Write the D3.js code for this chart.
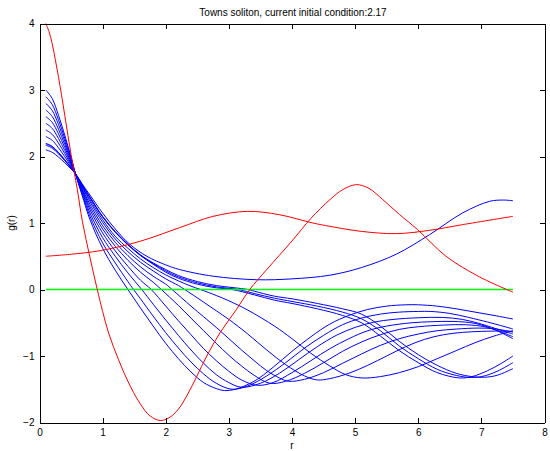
<!DOCTYPE html>
<html>
<head>
<meta charset="utf-8">
<title>Towns soliton</title>
<script src="https://cdn.jsdelivr.net/npm/d3@7"></script>
<style>
    body { margin: 0; background: #fff; }
    text { font-family: "Liberation Sans", Arial, Helvetica, sans-serif; }
    .curve { fill: none; }
</style>
</head>
<body>
<div id="vis"></div>
<script>
    // tick values
    var xTicks = [0, 1, 2, 3, 4, 5, 6, 7, 8];
    var yTicks = [-2, -1, 0, 1, 2, 3, 4];

    // shooting curves, [r, g(r)]
    var blue30 = [[0.1,3.0],[0.2,2.874],[0.3,2.622],[0.4,2.32],[0.5,1.992],[0.57,1.74],[0.7,1.34],[0.8,1.05],[1.0,0.62],[1.2,0.29],[1.4,0.0],[1.6,-0.28],[1.8,-0.55],[2.0,-0.81],[2.2,-1.04],[2.4,-1.24],[2.6,-1.4],[2.8,-1.49],[2.93,-1.52],[3.1,-1.5],[3.4,-1.38],[3.7,-1.17],[4.0,-0.93],[4.3,-0.71],[4.6,-0.52],[4.9,-0.39],[5.2,-0.3],[5.5,-0.25],[5.8,-0.23],[6.0,-0.23],[6.3,-0.25],[6.6,-0.29],[6.9,-0.34],[7.2,-0.39],[7.5,-0.444]];
    var blue29 = [[0.1,2.9],[0.2,2.784],[0.3,2.552],[0.4,2.274],[0.5,1.972],[0.57,1.74],[0.7,1.37],[0.8,1.1],[1.0,0.7],[1.2,0.4],[1.4,0.12],[1.49,0.0],[1.6,-0.14],[1.8,-0.4],[2.0,-0.65],[2.2,-0.88],[2.4,-1.09],[2.6,-1.27],[2.8,-1.41],[3.05,-1.5],[3.3,-1.45],[3.6,-1.3],[3.9,-1.1],[4.2,-0.88],[4.5,-0.69],[4.8,-0.53],[5.1,-0.43],[5.4,-0.37],[5.7,-0.34],[6.0,-0.33],[6.2,-0.33],[6.5,-0.36],[6.8,-0.42],[7.1,-0.49],[7.3,-0.54],[7.5,-0.594]];
    var blue28 = [[0.1,2.8],[0.2,2.694],[0.3,2.482],[0.4,2.228],[0.5,1.952],[0.57,1.74],[0.7,1.4],[0.8,1.15],[1.0,0.78],[1.2,0.5],[1.4,0.25],[1.62,0.0],[1.8,-0.22],[2.0,-0.46],[2.2,-0.69],[2.4,-0.91],[2.6,-1.11],[2.8,-1.28],[3.0,-1.4],[3.2,-1.47],[3.5,-1.41],[3.8,-1.26],[4.1,-1.06],[4.4,-0.86],[4.7,-0.69],[5.0,-0.57],[5.3,-0.49],[5.6,-0.45],[6.0,-0.425],[6.38,-0.42],[6.7,-0.45],[7.0,-0.52],[7.3,-0.61],[7.5,-0.67]];
    var blue27 = [[0.1,2.7],[0.2,2.604],[0.3,2.412],[0.4,2.182],[0.5,1.932],[0.57,1.74],[0.7,1.43],[0.8,1.2],[1.0,0.85],[1.2,0.58],[1.4,0.35],[1.6,0.14],[1.77,0.0],[2.0,-0.25],[2.2,-0.47],[2.4,-0.68],[2.6,-0.89],[2.8,-1.07],[3.0,-1.23],[3.2,-1.36],[3.45,-1.44],[3.7,-1.4],[4.0,-1.25],[4.3,-1.07],[4.6,-0.89],[4.9,-0.74],[5.2,-0.62],[5.5,-0.55],[5.9,-0.5],[6.2,-0.485],[6.55,-0.48],[6.9,-0.51],[7.2,-0.6],[7.5,-0.74]];
    var blue26 = [[0.1,2.6],[0.2,2.514],[0.3,2.342],[0.4,2.136],[0.5,1.912],[0.57,1.74],[0.7,1.45],[0.8,1.24],[1.0,0.91],[1.2,0.65],[1.4,0.44],[1.6,0.26],[1.8,0.11],[1.93,0.0],[2.2,-0.24],[2.4,-0.43],[2.6,-0.62],[2.8,-0.81],[3.0,-0.99],[3.2,-1.15],[3.4,-1.29],[3.65,-1.41],[3.9,-1.38],[4.2,-1.26],[4.5,-1.1],[4.8,-0.93],[5.1,-0.79],[5.4,-0.68],[5.7,-0.6],[6.0,-0.56],[6.4,-0.535],[6.75,-0.53],[7.1,-0.57],[7.5,-0.71]];
    var blue25 = [[0.1,2.5],[0.2,2.424],[0.3,2.272],[0.4,2.09],[0.5,1.892],[0.57,1.74],[0.7,1.47],[0.8,1.28],[1.0,0.96],[1.2,0.71],[1.4,0.51],[1.6,0.34],[1.8,0.2],[2.0,0.08],[2.1,0.0],[2.4,-0.25],[2.6,-0.41],[2.8,-0.57],[3.0,-0.74],[3.2,-0.91],[3.4,-1.07],[3.6,-1.22],[3.8,-1.33],[3.95,-1.38],[4.2,-1.35],[4.5,-1.25],[4.8,-1.11],[5.1,-0.97],[5.4,-0.84],[5.7,-0.74],[6.0,-0.67],[6.3,-0.62],[6.6,-0.595],[6.95,-0.58],[7.2,-0.59],[7.5,-0.64]];
    var blue24 = [[0.1,2.4],[0.2,2.334],[0.3,2.202],[0.4,2.044],[0.5,1.872],[0.57,1.74],[0.7,1.5],[0.8,1.32],[1.0,1.01],[1.2,0.76],[1.4,0.57],[1.6,0.41],[1.8,0.28],[2.0,0.16],[2.2,0.06],[2.3,0.0],[2.6,-0.19],[2.8,-0.32],[3.0,-0.45],[3.3,-0.67],[3.6,-0.91],[3.9,-1.13],[4.2,-1.3],[4.4,-1.36],[4.6,-1.34],[4.9,-1.26],[5.2,-1.14],[5.5,-1.0],[5.8,-0.86],[6.1,-0.75],[6.4,-0.68],[6.7,-0.645],[7.0,-0.63],[7.3,-0.625],[7.5,-0.63]];
    var blue23 = [[0.1,2.3],[0.2,2.244],[0.3,2.132],[0.4,1.998],[0.5,1.852],[0.57,1.74],[0.7,1.51],[0.8,1.35],[1.0,1.05],[1.2,0.8],[1.4,0.62],[1.6,0.46],[1.8,0.33],[2.0,0.22],[2.2,0.13],[2.4,0.05],[2.55,0.0],[2.8,-0.09],[3.0,-0.17],[3.3,-0.31],[3.73,-0.555],[4.0,-0.74],[4.3,-0.96],[4.6,-1.15],[4.85,-1.28],[5.1,-1.33],[5.4,-1.31],[5.7,-1.25],[6.0,-1.16],[6.3,-1.04],[6.6,-0.92],[6.9,-0.8],[7.2,-0.7],[7.5,-0.62]];
    var blue22 = [[0.1,2.2],[0.2,2.154],[0.3,2.062],[0.4,1.952],[0.5,1.832],[0.57,1.74],[0.7,1.53],[0.8,1.38],[1.0,1.09],[1.2,0.86],[1.4,0.67],[1.6,0.51],[1.8,0.38],[2.0,0.26],[2.2,0.17],[2.5,0.08],[2.8,0.025],[3.05,0.0],[3.4,-0.08],[3.72,-0.16],[4.0,-0.21],[4.4,-0.29],[4.8,-0.39],[5.1,-0.5],[5.4,-0.7],[5.7,-0.92],[6.0,-1.1],[6.3,-1.25],[6.65,-1.33],[6.85,-1.31],[7.1,-1.22],[7.3,-1.12],[7.5,-1.0]];
    var blue219 = [[0.1,2.19],[0.2,2.145],[0.3,2.055],[0.4,1.947],[0.5,1.83],[0.57,1.74],[0.7,1.535],[0.8,1.385],[1.0,1.095],[1.2,0.865],[1.4,0.675],[1.6,0.515],[1.8,0.39],[2.0,0.28],[2.2,0.19],[2.5,0.1],[2.8,0.04],[3.15,0.0],[3.4,-0.06],[3.72,-0.13],[4.0,-0.18],[4.4,-0.25],[4.8,-0.34],[5.1,-0.44],[5.4,-0.62],[5.7,-0.85],[6.0,-1.04],[6.3,-1.2],[6.55,-1.28],[6.78,-1.32],[7.0,-1.31],[7.25,-1.23],[7.5,-1.1]];
    var blue217 = [[0.1,2.17],[0.2,2.127],[0.3,2.041],[0.4,1.938],[0.5,1.826],[0.57,1.74],[0.7,1.54],[0.8,1.39],[1.0,1.1],[1.2,0.87],[1.4,0.68],[1.6,0.52],[1.8,0.4],[2.0,0.3],[2.2,0.21],[2.5,0.12],[2.8,0.06],[3.3,0.0],[3.4,-0.025],[3.72,-0.1],[4.0,-0.14],[4.4,-0.21],[4.8,-0.29],[5.1,-0.37],[5.4,-0.55],[5.7,-0.78],[6.0,-0.98],[6.3,-1.14],[6.6,-1.26],[6.85,-1.31],[7.05,-1.32],[7.25,-1.29],[7.5,-1.19]];
    var blue21 = [[0.1,2.1],[0.2,2.064],[0.3,1.992],[0.4,1.906],[0.5,1.812],[0.57,1.74],[0.7,1.555],[0.8,1.42],[1.0,1.15],[1.2,0.91],[1.43,0.68],[1.7,0.5],[2.0,0.37],[2.22,0.3],[2.75,0.2],[3.44,0.147],[4.0,0.16],[4.6,0.215],[5.1,0.33],[5.65,0.53],[6.18,0.825],[6.7,1.15],[7.13,1.326],[7.35,1.345],[7.5,1.335]];

    var red40 = [[0.1,4.0],[0.15,3.88],[0.2,3.7],[0.25,3.46],[0.3,3.2],[0.35,2.92],[0.4,2.62],[0.45,2.32],[0.5,2.03],[0.55,1.76],[0.6,1.5],[0.68,1.02],[0.8,0.48],[0.915,0.0],[1.0,-0.33],[1.1,-0.67],[1.25,-1.05],[1.4,-1.38],[1.59,-1.71],[1.75,-1.9],[1.91,-1.97],[2.05,-1.93],[2.2,-1.8],[2.35,-1.57],[2.49,-1.31],[2.65,-1.0],[2.86,-0.65],[3.12,-0.3],[3.33,0.0],[3.6,0.3],[4.0,0.73],[4.3,1.07],[4.6,1.35],[4.8,1.5],[5.02,1.577],[5.22,1.52],[5.44,1.35],[5.7,1.13],[5.99,0.9],[6.44,0.5],[6.97,0.19],[7.5,-0.04]];
    var red05 = [[0.1,0.5],[0.5,0.53],[0.96,0.584],[1.59,0.724],[2.22,0.93],[2.75,1.1],[3.3,1.175],[3.8,1.125],[4.33,1.0],[4.6,0.95],[5.1,0.874],[5.65,0.84],[6.18,0.89],[6.7,0.975],[7.5,1.1]];
    var green00 = [[0.1,0],[7.5,0]];

    var blueCurves = [blue30, blue29, blue28, blue27, blue26, blue25, blue24, blue23, blue22, blue219, blue217, blue21];
    var redCurves = [red40, red05];

    var width = 550, height = 451;
    var padLeft = 39.5, padRight = 544.5, padTop = 23.5, padBottom = 422.5;

    var svg = d3.select("#vis").append("svg")
            .attr("width", width)
            .attr("height", height);

    svg.append("rect").attr("width", width).attr("height", height).attr("fill", "#fff");

    var x = d3.scaleLinear().domain([0, 8]).range([padLeft, padRight]);
    var y = d3.scaleLinear().domain([-2, 4]).range([padBottom, padTop]);

    var line = d3.line()
            .x(function(d) { return x(d[0]); })
            .y(function(d) { return y(d[1]); })
            .curve(d3.curveCatmullRom.alpha(0.5));

    var plot = svg.append("g");

    plot.selectAll(".blue")
            .data(blueCurves)
            .enter()
            .append("path")
            .attr("class", "curve blue")
            .attr("stroke", "#0000ff")
            .attr("stroke-width", 1)
            .attr("d", line);

    plot.append("path")
            .datum(green00)
            .attr("class", "curve")
            .attr("stroke", "#00ff00")
            .attr("stroke-width", 1.5)
            .attr("d", line);

    plot.selectAll(".red")
            .data(redCurves)
            .enter()
            .append("path")
            .attr("class", "curve red")
            .attr("stroke", "#ff0000")
            .attr("stroke-width", 1)
            .attr("d", line);

    // axes, ticks pointing inwards like matlab
    function styleAxis(g) {
        g.attr("font-family", "Liberation Sans, Arial, Helvetica, sans-serif")
         .attr("font-size", 10);
        g.selectAll("path, line").attr("stroke", "#000").attr("shape-rendering", "crispEdges");
        g.selectAll("text").attr("fill", "#000");
    }

    var intFormat = d3.format("d");

    svg.append("g")
            .attr("transform", "translate(0," + padBottom + ")")
            .call(d3.axisBottom(x).tickValues(xTicks).tickFormat(intFormat).tickSizeInner(-5).tickSizeOuter(0).tickPadding(6))
            .call(styleAxis);

    svg.append("g")
            .attr("transform", "translate(0," + padTop + ")")
            .call(d3.axisTop(x).tickValues(xTicks).tickSizeInner(-5).tickSizeOuter(0).tickFormat(""))
            .call(styleAxis);

    svg.append("g")
            .attr("transform", "translate(" + padLeft + ",0)")
            .call(d3.axisLeft(y).tickValues(yTicks).tickFormat(intFormat).tickSizeInner(-5).tickSizeOuter(0).tickPadding(5))
            .call(styleAxis);

    svg.append("g")
            .attr("transform", "translate(" + padRight + ",0)")
            .call(d3.axisRight(y).tickValues(yTicks).tickSizeInner(-5).tickSizeOuter(0).tickFormat(""))
            .call(styleAxis);

    svg.append("text")
            .attr("x", 293)
            .attr("y", 15.5)
            .attr("text-anchor", "middle")
            .attr("font-size", 10)
            .text("Towns soliton, current initial condition:2.17");

    svg.append("text")
            .attr("x", (padLeft + padRight) / 2)
            .attr("y", 449)
            .attr("text-anchor", "middle")
            .attr("font-size", 10)
            .text("r");

    svg.append("text")
            .attr("transform", "translate(15," + ((padTop + padBottom) / 2) + ") rotate(-90)")
            .attr("text-anchor", "middle")
            .attr("font-size", 10)
            .text("g(r)");
</script>
</body>
</html>
